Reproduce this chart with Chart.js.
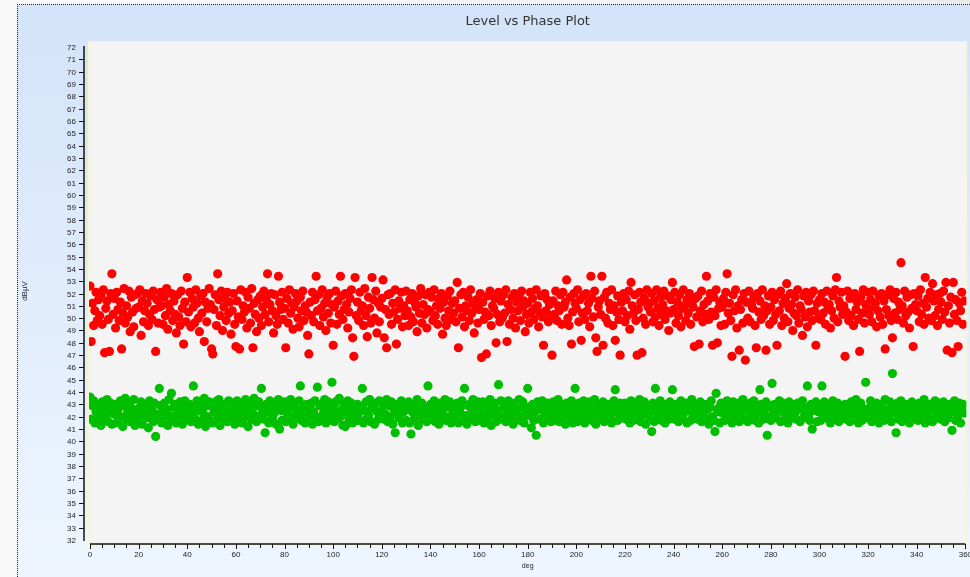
<!DOCTYPE html>
<html><head><meta charset="utf-8">
<script src="https://cdn.jsdelivr.net/npm/chart.js@4.4.1/dist/chart.umd.min.js"></script>
<style>
html,body{margin:0;padding:0;width:970px;height:577px;overflow:hidden;background:linear-gradient(90deg,#f8f8f8,#f3f3f3 70%,#ebebeb);}
#panel{position:absolute;left:17px;top:4px;width:970px;height:590px;border-top:1px dotted #222;border-left:1px dotted #222;background:linear-gradient(#d3e3f9,#eff6ff);}
#c{position:absolute;left:0;top:0;}
</style></head><body>
<div id="panel"></div>
<canvas id="c" width="970" height="577"></canvas>
<script>
const chartTitle = "Level vs Phase Plot";
const xAxisTitle = "deg";
const yAxisTitle = "dBµV";
const phaseStart = 0;      // first sample, degrees
const phaseStep = 0.5;     // sampling interval, degrees
const xTickLabels = [0,20,40,60,80,100,120,140,160,180,200,220,240,260,280,300,320,340,360];
const yTickLabels = [32,33,34,35,36,37,38,39,40,41,42,43,44,45,46,47,48,49,50,51,52,53,54,55,56,57,58,59,60,61,62,63,64,65,66,67,68,69,70,71,72];

const levelRed = [
52.6,48.1,51.2,49.4,50.6,52.1,49.8,51.5,50.2,51.9,49.5,52.3,47.2,50.8,51.4,49.9,47.3,52.0,53.6,50.3,
51.6,49.2,52.1,50.7,49.8,51.3,47.5,50.4,52.4,49.6,51.0,50.1,52.2,48.9,51.7,50.5,49.3,51.9,50.8,52.0,
50.9,52.3,48.6,51.4,49.7,50.6,52.0,51.2,49.4,50.3,51.8,49.9,52.2,50.7,47.3,51.5,49.6,50.9,52.1,51.0,
49.5,51.7,50.2,52.4,49.1,51.1,50.6,52.0,49.8,51.4,50.3,48.8,51.9,50.1,49.4,52.2,50.8,47.9,51.3,49.7,
53.3,50.5,52.1,49.3,51.6,50.9,49.6,52.3,51.2,50.0,48.9,51.8,50.4,52.0,48.1,51.3,49.7,50.8,52.4,51.1,
47.5,47.1,50.7,51.9,49.4,53.6,51.5,50.2,52.2,49.0,50.9,51.6,49.8,52.1,50.4,51.3,48.7,50.6,52.0,49.5,
47.7,51.4,50.1,47.5,52.3,49.9,51.0,50.5,52.1,49.2,51.7,50.8,49.6,52.4,47.6,51.2,50.3,48.9,51.5,50.0,
51.8,49.4,50.9,52.2,50.3,51.5,53.6,49.7,51.1,52.0,50.6,48.8,51.9,50.2,49.5,53.4,51.3,50.7,52.1,49.9,
50.8,47.6,51.6,49.6,52.3,50.4,51.2,49.1,50.9,52.0,51.4,50.0,49.3,51.7,50.6,52.2,49.8,51.0,50.5,48.6,
47.1,51.3,50.2,52.1,49.7,51.5,53.4,50.6,51.9,49.4,50.8,52.3,50.1,51.2,49.0,51.7,50.4,52.0,49.6,51.1,
47.8,50.9,52.2,49.5,51.4,50.3,53.4,51.8,49.9,50.7,52.0,51.1,49.2,50.5,51.6,52.3,48.4,46.9,53.3,50.2,
51.3,49.8,52.1,50.6,51.0,49.4,52.4,50.2,48.5,51.7,50.8,49.6,53.3,51.5,50.0,52.2,48.8,51.2,49.7,50.9,
51.6,53.1,48.4,50.7,47.6,51.9,50.3,52.0,49.5,51.2,50.5,52.3,47.9,49.9,51.4,50.8,52.1,49.3,51.0,50.2,
52.2,50.6,49.4,51.5,50.1,52.0,49.7,51.3,50.9,48.9,51.8,50.4,52.4,49.6,51.1,50.3,51.9,49.2,50.7,52.1,
50.5,51.7,49.8,52.3,50.2,51.0,49.5,51.6,50.8,52.0,48.7,51.3,50.0,49.4,51.8,50.6,52.2,49.9,51.2,50.4,
51.4,49.7,52.9,47.6,50.8,51.9,50.1,52.1,49.3,51.0,50.6,51.7,49.8,52.3,50.4,51.2,48.8,50.9,51.5,49.6,
50.7,52.0,46.8,51.3,49.9,50.5,47.1,51.8,50.2,52.2,49.4,51.0,50.8,51.6,48.0,50.3,52.1,49.7,51.4,50.0,
51.9,50.4,52.3,48.1,51.1,49.5,50.7,51.7,50.0,52.0,49.2,51.3,50.6,51.9,49.8,52.2,50.9,51.4,48.9,50.3,
51.2,49.6,52.1,50.5,51.6,49.9,50.8,52.3,51.0,49.3,50.4,51.8,50.1,47.8,52.0,50.6,51.5,49.7,51.1,50.2,
47.0,51.4,50.3,52.2,49.8,51.0,50.6,51.9,49.5,52.1,50.9,51.3,53.1,50.0,49.4,51.7,47.9,50.5,52.0,51.2,
50.8,52.3,49.7,51.5,48.2,50.4,51.8,49.9,52.0,50.6,51.2,49.3,53.4,51.6,50.1,52.2,48.4,47.3,50.9,51.4,
50.3,53.4,47.8,51.7,50.0,52.1,49.6,51.2,50.7,52.3,49.4,51.0,48.2,50.5,51.8,49.9,47.0,51.3,50.6,52.0,
49.7,51.5,50.2,52.2,49.1,52.9,51.0,50.4,51.9,49.8,47.0,50.7,52.1,51.3,47.2,50.0,51.6,49.5,52.3,50.9,
51.2,50.5,52.0,49.7,51.4,50.1,52.3,50.8,49.4,51.7,50.3,51.1,52.2,49.9,50.6,51.8,49.0,50.4,51.5,52.9,
50.7,52.1,49.6,51.3,50.2,51.9,49.3,50.8,52.3,51.0,49.8,51.5,50.4,52.0,49.5,51.2,50.9,47.7,51.6,50.1,
51.8,47.9,50.6,52.2,49.7,51.1,50.3,53.4,51.4,49.9,52.0,50.5,47.8,51.7,50.2,52.3,48.0,50.8,51.3,49.4,
50.9,51.6,49.5,52.1,53.6,50.4,51.2,49.8,46.9,51.9,50.6,52.3,49.2,51.0,47.4,50.7,51.5,49.6,52.0,46.6,
51.3,50.0,52.2,49.7,51.1,50.8,51.7,49.4,47.6,52.0,50.5,51.4,49.9,52.3,50.2,51.0,47.4,50.6,51.8,49.5,
50.9,52.1,49.8,51.5,50.3,47.8,51.9,50.6,52.2,49.4,51.2,50.0,51.6,52.8,49.7,50.8,52.0,51.1,49.0,50.4,
51.7,50.2,52.3,49.6,51.0,50.7,48.6,51.8,50.1,52.1,49.3,51.4,50.5,51.9,49.8,52.2,50.6,47.8,51.2,50.0,
51.5,49.9,52.0,50.4,51.3,49.5,52.2,50.8,51.1,49.2,50.6,51.8,50.0,52.3,53.3,49.7,51.4,50.9,52.1,50.3,
51.0,46.9,50.5,52.2,49.8,51.6,50.2,51.9,49.4,52.0,50.7,51.3,49.9,47.3,51.7,50.4,52.3,49.6,51.1,50.8,
52.1,50.3,51.5,49.7,52.2,50.9,51.2,49.3,50.6,51.8,50.1,52.0,49.5,51.4,47.5,50.7,51.9,50.2,52.3,49.8,
48.4,51.6,50.4,52.1,49.9,51.3,50.7,54.5,51.0,49.6,52.2,50.2,51.7,50.5,49.2,51.9,50.8,47.7,52.0,51.1,
50.6,51.8,49.7,52.3,50.3,51.2,49.5,53.3,50.9,51.6,50.0,52.1,49.8,52.8,51.4,50.2,51.9,49.4,50.7,52.0,
51.3,49.9,52.2,50.5,52.9,47.4,51.0,49.6,51.7,47.2,52.9,50.3,51.5,49.8,47.7,51.2,50.6,52.1,49.5,51.4
];

const levelGreen = [
43.6,41.8,42.9,43.3,41.5,42.4,43.0,41.9,42.6,41.3,43.2,42.1,41.7,42.8,43.4,41.6,42.3,43.1,41.4,42.7,
42.2,43.0,41.5,42.6,41.9,43.3,42.0,41.2,42.9,43.5,41.8,42.4,43.1,41.6,42.7,42.1,43.4,41.3,42.5,42.0,
41.7,42.8,43.2,41.4,42.3,43.0,41.9,42.5,41.1,43.3,42.0,42.7,41.6,43.1,40.4,42.2,41.8,44.3,42.9,41.5,
42.4,43.1,41.8,42.6,41.3,43.4,42.1,43.9,41.7,42.8,43.0,41.5,42.3,41.9,43.2,42.5,41.4,42.9,43.3,42.0,
41.8,42.6,43.0,41.6,42.2,44.5,41.9,42.8,43.3,41.4,42.5,43.1,41.7,42.3,43.5,41.2,42.9,42.0,43.2,41.6,
42.9,41.5,42.4,43.2,41.8,42.7,43.4,41.3,42.1,42.8,41.7,43.0,42.3,41.6,43.3,42.5,41.9,42.0,43.1,41.4,
42.6,43.3,41.7,42.2,43.0,41.5,42.8,41.9,43.4,42.4,41.2,42.7,43.1,41.8,42.3,43.5,42.0,41.6,42.9,43.2,
42.1,44.3,42.6,41.8,40.7,43.0,42.4,41.5,43.3,42.8,41.9,42.2,43.1,41.4,42.7,43.4,41.0,42.5,41.7,42.9,
43.2,41.6,42.3,42.9,41.8,43.4,42.0,41.4,42.7,43.1,41.9,42.5,43.3,44.5,41.7,42.2,42.8,41.5,43.0,42.4,
41.8,42.7,43.1,41.4,42.4,43.3,42.0,44.4,41.6,42.9,43.0,41.9,42.3,43.4,41.5,42.6,43.2,41.7,42.1,44.8,
42.8,41.6,43.2,42.3,41.9,43.5,42.0,42.6,41.3,43.0,41.2,42.4,43.3,41.8,42.7,43.1,41.5,42.2,42.9,41.7,
43.0,42.3,41.7,42.8,44.3,41.5,42.5,43.2,41.9,42.1,43.4,41.6,42.7,42.9,41.4,43.1,42.4,41.8,43.3,42.0,
42.5,43.1,41.8,42.2,43.4,41.6,42.9,42.0,43.2,41.4,42.6,40.7,43.0,42.3,41.9,42.8,43.3,41.5,42.4,42.7,
41.7,42.9,43.2,41.5,40.6,42.4,43.0,41.9,42.6,43.4,41.3,42.1,42.8,43.1,41.8,42.3,42.7,41.6,44.5,42.2,
43.0,41.8,42.5,43.3,41.6,42.2,42.9,41.4,43.1,42.4,41.9,42.7,43.4,41.7,42.0,42.8,43.2,41.5,42.6,42.3,
41.9,42.6,43.1,41.5,42.3,42.8,43.3,41.7,44.3,42.1,41.4,42.9,43.0,41.8,42.5,43.4,42.0,41.6,42.7,43.2,
42.4,41.7,42.9,43.2,41.5,42.2,43.0,41.9,42.6,43.4,41.3,42.8,42.1,43.1,41.6,42.5,44.6,42.0,43.3,41.8,
42.7,43.0,41.6,42.3,43.3,41.9,42.5,42.9,41.4,43.1,42.2,41.8,42.6,43.4,41.7,42.0,43.2,41.5,42.8,42.4,
44.3,42.1,42.8,41.1,43.0,41.7,42.4,40.5,43.2,42.6,41.8,42.9,43.3,41.5,42.2,42.7,41.9,43.1,42.3,41.6,
42.5,43.2,41.7,42.0,42.8,43.4,41.6,42.3,43.0,41.9,42.6,41.4,43.1,42.4,41.8,42.9,43.3,41.5,42.2,44.3,
42.8,41.6,43.1,42.3,41.9,42.7,43.3,41.5,42.4,42.9,41.8,43.2,42.0,41.7,42.6,43.4,41.4,42.2,43.0,42.5,
41.9,42.6,43.2,41.6,42.3,42.9,41.8,43.0,42.1,41.5,42.7,43.3,44.2,42.4,41.7,42.8,43.1,41.9,42.2,42.6,
43.1,41.8,42.4,42.9,41.5,43.3,42.2,41.7,42.7,43.0,41.9,42.5,43.4,41.6,42.1,42.8,43.2,41.4,42.6,42.3,
42.0,42.7,40.8,43.1,41.6,44.3,42.4,41.9,42.9,43.3,41.7,42.2,42.8,41.5,43.0,42.5,41.8,43.2,42.1,44.2,
42.6,41.8,43.0,42.3,41.6,42.8,43.3,41.9,42.2,42.7,43.1,41.5,42.5,42.9,41.7,43.4,42.1,41.9,42.6,43.0,
41.8,42.5,43.2,41.6,42.9,42.2,41.9,43.0,42.6,41.4,42.8,43.3,42.0,41.7,40.8,43.9,42.4,42.7,41.5,43.1,
42.3,43.0,41.7,42.6,43.3,41.9,42.1,42.8,41.5,43.2,42.4,41.8,42.9,43.1,41.6,42.5,42.0,43.4,41.8,42.7,
42.9,41.6,42.4,43.1,41.9,42.7,43.3,41.7,42.2,42.8,41.5,44.2,43.0,42.3,41.8,42.6,43.2,40.5,42.0,42.9,
41.7,44.7,42.5,43.0,41.9,42.3,42.8,43.3,41.6,42.6,43.1,41.8,42.2,42.9,41.5,43.2,42.4,41.9,42.7,43.0,
42.3,41.8,43.1,42.6,41.6,42.9,43.3,41.9,42.2,42.7,44.5,42.0,41.7,43.0,41.0,42.5,42.8,43.2,41.6,42.4,
42.9,41.7,44.5,42.3,43.2,41.9,42.6,42.1,43.0,41.5,42.8,43.3,41.8,42.4,42.7,43.1,41.6,42.2,42.9,41.9,
42.5,43.0,41.8,42.3,42.9,41.6,43.2,42.0,42.7,41.9,43.4,42.2,41.5,42.8,43.1,41.7,42.4,42.6,44.8,42.1,
41.9,42.7,43.3,41.6,42.4,42.9,41.8,43.1,42.2,41.5,42.8,43.0,42.5,41.7,43.4,42.1,41.9,42.6,43.2,41.6,
45.5,42.3,42.9,40.7,43.1,41.8,42.5,43.3,41.6,42.2,42.8,41.9,43.0,42.4,41.5,42.7,43.2,41.8,42.1,42.9,
42.6,41.7,43.1,42.3,41.9,42.8,43.4,41.5,42.2,42.9,41.8,43.0,42.5,41.6,42.7,43.3,42.0,41.9,42.4,43.1,
41.8,42.5,43.2,41.6,42.9,42.2,41.9,43.0,42.6,40.9,42.4,43.3,41.7,42.8,42.1,43.1,41.5,42.7,43.0,42.3
];

function toPoints(values){
  return values.map((v,i)=>({x: phaseStart + i*phaseStep, y: v}));
}

const TXT = '#1e1e1e';
const axesPlugin = {
  id: 'customAxes',
  beforeDraw(chart){
    const {ctx, chartArea:a} = chart;
    ctx.save();
    ctx.fillStyle = '#f4f4f4';
    ctx.fillRect(a.left-1, a.top-5, a.right-a.left+2, a.bottom-a.top+9);
    ctx.strokeStyle = '#f8f8c4';
    ctx.lineWidth = 1;
    ctx.strokeRect(a.left-1.5, a.top-5.5, a.right-a.left+3, a.bottom-a.top+10);
    ctx.restore();
  },
  afterDraw(chart){
    const {ctx, chartArea:a, scales:{x, y}} = chart;
    ctx.save();
    // title
    ctx.fillStyle = '#333';
    ctx.font = '13px "DejaVu Sans", Verdana, sans-serif';
    ctx.textAlign = 'center'; ctx.textBaseline = 'middle';
    ctx.fillText(chartTitle, (a.left+a.right)/2, 22);
    // y axis
    const yx = a.left - 6;
    ctx.strokeStyle = '#111'; ctx.lineWidth = 1.5;
    ctx.beginPath();
    ctx.moveTo(yx, y.getPixelForValue(yTickLabels[yTickLabels.length-1]) - 1);
    ctx.lineTo(yx, y.getPixelForValue(yTickLabels[0]) + 1);
    ctx.stroke();
    ctx.lineWidth = 1;
    ctx.font = '8px "Liberation Sans", Arial, sans-serif';
    ctx.fillStyle = TXT;
    ctx.textAlign = 'right'; ctx.textBaseline = 'middle';
    yTickLabels.forEach(v=>{
      const py = Math.round(y.getPixelForValue(v)) + 0.5;
      if (v !== yTickLabels[0] && v !== yTickLabels[yTickLabels.length-1]) {
        ctx.beginPath(); ctx.moveTo(yx-5, py); ctx.lineTo(yx, py); ctx.stroke();
      }
      ctx.fillText(String(v), yx-8, py);
    });
    // x axis
    const xy = a.bottom + 4;
    ctx.lineWidth = 1.5;
    ctx.beginPath(); ctx.moveTo(a.left, xy); ctx.lineTo(a.right, xy); ctx.stroke();
    ctx.lineWidth = 1;
    const xmin = xTickLabels[0], xmax = xTickLabels[xTickLabels.length-1];
    for (let d = xmin; d <= xmax; d += 5) {
      const px = Math.round(x.getPixelForValue(d)) + 0.5;
      const major = xTickLabels.includes(d);
      ctx.beginPath(); ctx.moveTo(px, xy); ctx.lineTo(px, xy + (major ? 5 : 4)); ctx.stroke();
    }
    ctx.textAlign = 'center'; ctx.textBaseline = 'middle';
    xTickLabels.forEach(v=>{
      ctx.fillText(String(v), x.getPixelForValue(v), xy + 11);
    });
    ctx.font = '7px "Liberation Sans", Arial, sans-serif';
    ctx.fillText(xAxisTitle, (a.left+a.right)/2, xy + 22);
    // y title
    ctx.translate(25, 291);
    ctx.rotate(-Math.PI/2);
    ctx.font = '8px "Liberation Sans", Arial, sans-serif';
    ctx.fillText(yAxisTitle, 0, 0);
    ctx.restore();
  }
};

new Chart(document.getElementById('c'), {
  type: 'scatter',
  data: {
    datasets: [
      {label:'Level A', data: toPoints(levelRed), backgroundColor:'#ff0000', borderWidth:0, pointRadius:4.6, pointHoverRadius:4.6, clip:{left:1,right:1,top:5,bottom:4}},
      {label:'Level B', data: toPoints(levelGreen), backgroundColor:'#00bf00', borderWidth:0, pointRadius:4.6, pointHoverRadius:4.6, clip:{left:1,right:1,top:5,bottom:4}}
    ]
  },
  options: {
    responsive: false,
    animation: false,
    devicePixelRatio: 1,
    events: [],
    layout: {padding: {left:90, top:47, right:4, bottom:37}},
    plugins: {legend:{display:false}, title:{display:false}, tooltip:{enabled:false}},
    scales: {
      x: {type:'linear', min:0, max:360, display:false},
      y: {type:'linear', min:32, max:72, display:false}
    }
  },
  plugins: [axesPlugin]
});
</script>
</body></html>
